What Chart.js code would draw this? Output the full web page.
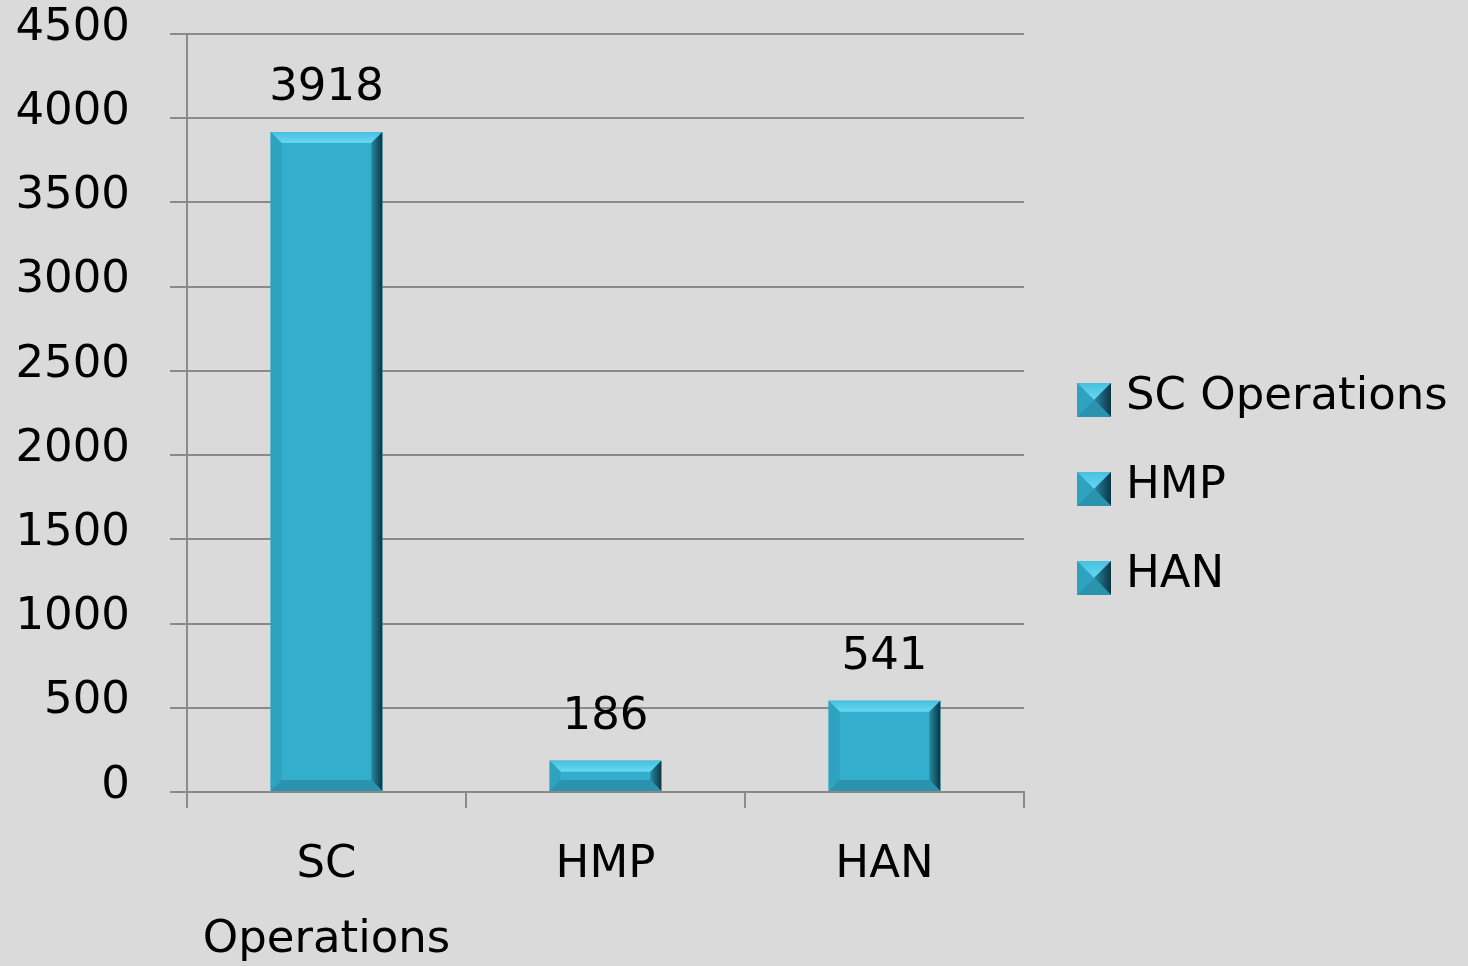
<!DOCTYPE html>
<html>
<head>
<meta charset="utf-8">
<script src="https://cdn.jsdelivr.net/npm/chart.js@4/dist/chart.umd.min.js"></script>
<style>
  html, body { margin: 0; padding: 0; background: #dadada; }
  #wrap { width: 1468px; height: 966px; }
</style>
</head>
<body>
<div id="wrap"><canvas id="chart" width="1468" height="966"></canvas></div>
<script>
const categories = [['SC', 'Operations'], 'HMP', 'HAN'];
const legend_names = ['SC Operations', 'HMP', 'HAN'];
const values = [3918, 186, 541];
const y_ticks = [0, 500, 1000, 1500, 2000, 2500, 3000, 3500, 4000, 4500];

const FONT = 'DejaVu Sans';
const BAR = '#33aecd';
const GRID = '#8a8a8a';

// bevelled box like the office chart style
function bevel(ctx, l, t, r, b, size) {
    const s = Math.min(size, (b - t) / 2, (r - l) / 2);
    ctx.save();
    ctx.fillStyle = BAR;
    ctx.fillRect(l, t, r - l, b - t);

    let g = ctx.createLinearGradient(0, t, 0, t + s);
    g.addColorStop(0, '#48c0de');
    g.addColorStop(1, '#66d8f3');
    ctx.fillStyle = g;
    ctx.beginPath();
    ctx.moveTo(l, t); ctx.lineTo(r, t); ctx.lineTo(r - s, t + s); ctx.lineTo(l + s, t + s);
    ctx.closePath(); ctx.fill();

    ctx.fillStyle = '#2ea2bf';
    ctx.beginPath();
    ctx.moveTo(l, t); ctx.lineTo(l + s, t + s); ctx.lineTo(l + s, b - s); ctx.lineTo(l, b);
    ctx.closePath(); ctx.fill();

    g = ctx.createLinearGradient(r - s, 0, r, 0);
    g.addColorStop(0, '#2789a2');
    g.addColorStop(1, '#0a3644');
    ctx.fillStyle = g;
    ctx.beginPath();
    ctx.moveTo(r, t); ctx.lineTo(r, b); ctx.lineTo(r - s, b - s); ctx.lineTo(r - s, t + s);
    ctx.closePath(); ctx.fill();

    ctx.fillStyle = '#2b93ad';
    ctx.beginPath();
    ctx.moveTo(l, b); ctx.lineTo(r, b); ctx.lineTo(r - s, b - s); ctx.lineTo(l + s, b - s);
    ctx.closePath(); ctx.fill();
    ctx.restore();
}

const background = {
    id: 'background',
    beforeDraw(chart) {
        const ctx = chart.ctx;
        ctx.save();
        ctx.fillStyle = '#dadada';
        ctx.fillRect(0, 0, chart.width, chart.height);
        ctx.restore();
    }
};

const bevelBars = {
    id: 'bevelBars',
    afterDatasetsDraw(chart) {
        const ctx = chart.ctx;
        const meta = chart.getDatasetMeta(0);
        meta.data.forEach((bar, i) => {
            const p = bar.getProps(['x', 'y', 'base', 'width'], true);
            bevel(ctx, p.x - p.width / 2, p.y, p.x + p.width / 2, p.base, 11);
            ctx.save();
            ctx.fillStyle = '#000';
            ctx.font = '45px "' + FONT + '"';
            ctx.textAlign = 'center';
            ctx.textBaseline = 'alphabetic';
            ctx.fillText(String(values[i]), p.x, p.y - 32);
            ctx.restore();
        });
    }
};

const sideLegend = {
    id: 'sideLegend',
    afterDraw(chart) {
        const ctx = chart.ctx;
        const x0 = chart.chartArea.right + 53;
        ctx.save();
        ctx.font = '45px "' + FONT + '"';
        ctx.textBaseline = 'alphabetic';
        legend_names.forEach((name, i) => {
            const base = 409 + i * 89;
            bevel(ctx, x0, base - 26, x0 + 34, base + 8, 17);
            ctx.fillStyle = '#000';
            ctx.fillText(name, x0 + 49, base);
        });
        ctx.restore();
    }
};

new Chart(document.getElementById('chart'), {
    type: 'bar',
    data: {
        labels: categories,
        datasets: [{
            label: 'SC Operations',
            data: values,
            backgroundColor: BAR,
            borderWidth: 0,
            barPercentage: 0.4,
            categoryPercentage: 1
        }]
    },
    options: {
        responsive: false,
        animation: false,
        layout: { padding: { top: 34, left: 0, right: 444, bottom: 0 } },
        plugins: {
            legend: { display: false },
            tooltip: { enabled: false }
        },
        scales: {
            x: {
                offset: true,
                grid: {
                    offset: true,
                    drawOnChartArea: false,
                    color: GRID,
                    lineWidth: 2,
                    tickLength: 16
                },
                border: { color: GRID, width: 2 },
                ticks: {
                    color: '#000',
                    font: { family: FONT, size: 45, lineHeight: 1.67 },
                    padding: 20,
                    maxRotation: 0
                },
                afterFit(scale) {
                    scale.height = 966 - 792;
                    scale.paddingLeft = 0;
                    scale.paddingRight = 0;
                }
            },
            y: {
                min: 0,
                max: 4500,
                afterBuildTicks(scale) {
                    scale.ticks = y_ticks.map(v => ({ value: v }));
                },
                grid: {
                    color: GRID,
                    lineWidth: 2,
                    tickLength: 17
                },
                border: { color: GRID, width: 2 },
                ticks: {
                    color: '#000',
                    font: { family: FONT, size: 45 },
                    padding: 40,
                    labelOffset: -6,
                    callback: v => String(v)
                },
                afterFit(scale) {
                    scale.width = 187;
                    scale.paddingTop = 0;
                    scale.paddingBottom = 0;
                }
            }
        }
    },
    plugins: [background, bevelBars, sideLegend]
});
</script>
</body>
</html>
